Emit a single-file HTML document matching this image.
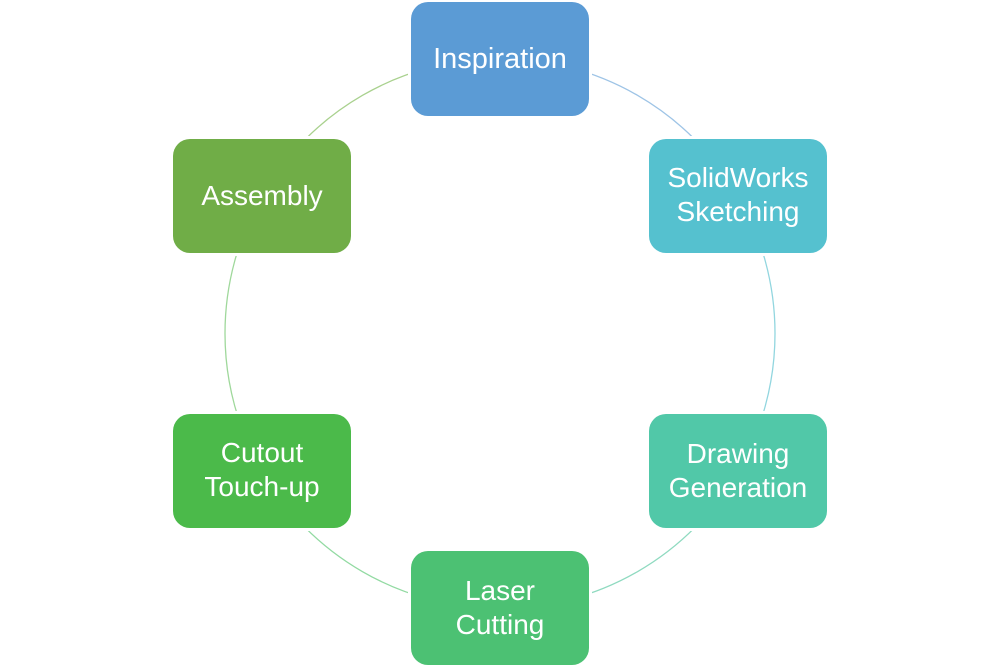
<!DOCTYPE html>
<html>
<head>
<meta charset="utf-8">
<style>
  html, body { margin: 0; padding: 0; background: #ffffff; }
  body { width: 1000px; height: 668px; overflow: hidden; }
  svg { display: block; }
  text { font-family: "Liberation Sans", "DejaVu Sans", sans-serif; font-size: 28px; fill: #ffffff; text-anchor: middle; }
</style>
</head>
<body>
<svg width="1000" height="668" viewBox="0 0 1000 668" xmlns="http://www.w3.org/2000/svg">
  <!-- connector arcs -->
  <g fill="none" stroke-width="1.3">
    <path d="M500 58.5 A275 275 0 0 1 738.16 196" stroke="#9ec4e6"/>
    <path d="M738.16 196 A275 275 0 0 1 738.16 471" stroke="#92d6df"/>
    <path d="M738.16 471 A275 275 0 0 1 500 608.5" stroke="#8fdac0"/>
    <path d="M500 608.5 A275 275 0 0 1 261.84 471" stroke="#92daa2"/>
    <path d="M261.84 471 A275 275 0 0 1 261.84 196" stroke="#9fd89b"/>
    <path d="M261.84 196 A275 275 0 0 1 500 58.5" stroke="#a9d18e"/>
  </g>
  <!-- white halos to create gaps -->
  <g fill="#ffffff">
    <rect x="408" y="-1" width="184" height="120" rx="20"/>
    <rect x="646" y="136" width="184" height="120" rx="20"/>
    <rect x="646" y="411" width="184" height="120" rx="20"/>
    <rect x="408" y="548" width="184" height="120" rx="20"/>
    <rect x="170" y="411" width="184" height="120" rx="20"/>
    <rect x="170" y="136" width="184" height="120" rx="20"/>
  </g>
  <!-- boxes -->
  <rect x="411" y="2" width="178" height="114" rx="17" fill="#5b9bd5"/>
  <rect x="649" y="139" width="178" height="114" rx="17" fill="#55c1cf"/>
  <rect x="649" y="414" width="178" height="114" rx="17" fill="#51c8a8"/>
  <rect x="411" y="551" width="178" height="114" rx="17" fill="#4cc173"/>
  <rect x="173" y="414" width="178" height="114" rx="17" fill="#4bba4a"/>
  <rect x="173" y="139" width="178" height="114" rx="17" fill="#70ad47"/>

  <text x="500" y="68" style="font-size:29px">Inspiration</text>
  <text x="738" y="187">SolidWorks</text>
  <text x="738" y="221">Sketching</text>
  <text x="738" y="463">Drawing</text>
  <text x="738" y="497">Generation</text>
  <text x="500" y="600">Laser</text>
  <text x="500" y="634">Cutting</text>
  <text x="262" y="462">Cutout</text>
  <text x="262" y="496">Touch-up</text>
  <text x="262" y="205">Assembly</text>
</svg>
</body>
</html>
